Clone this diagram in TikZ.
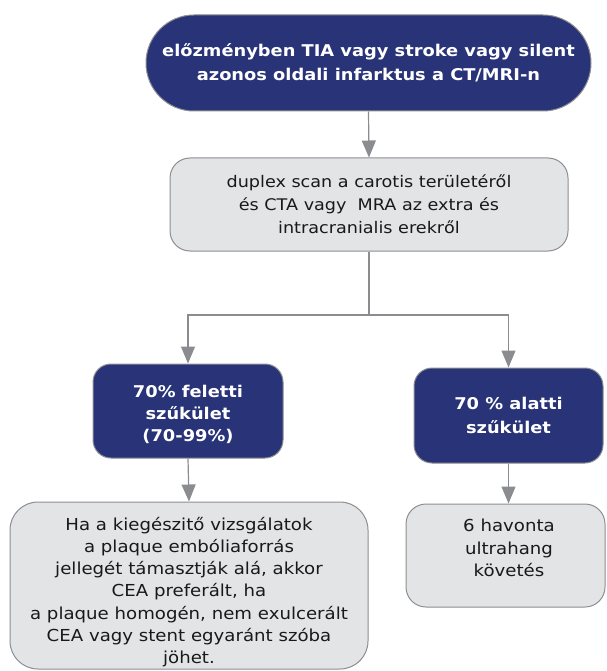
\documentclass[tikz,border=0pt]{standalone}
\usepackage{fontspec}
\setmainfont{DejaVu Sans}[FakeStretch=1.1]
\usetikzlibrary{arrows.meta}
\definecolor{navy}{RGB}{41,51,120}
\definecolor{boxgray}{RGB}{227,228,230}
\definecolor{edgegray}{RGB}{140,142,146}
\definecolor{linkgray}{RGB}{138,140,144}
\tikzset{
  darkbox/.style={draw=edgegray, line width=1pt, fill=navy, text=white,
    font=\fontsize{16.2}{24}\selectfont\bfseries, align=center, inner sep=0pt},
  lightbox/.style={draw=edgegray, line width=1pt, fill=boxgray, text=black!90,
    font=\fontsize{16}{23}\selectfont, align=center, inner sep=0pt},
  plaintext/.style={align=center, inner sep=0pt, text=black!90},
  link/.style={draw=linkgray, line width=1.2pt},
  arr/.style={link, -{Triangle[length=17pt,width=14pt]}}
}
\begin{document}
\begin{tikzpicture}[x=1pt,y=-1pt]
\useasboundingbox (0,0) rectangle (606,671);

\node[darkbox, minimum width=445pt, minimum height=96pt, rounded corners=48pt]
  (top) at (368.5,63) {előzményben TIA vagy stroke vagy silent\\azonos oldali infarktus a CT/MRI-n};

\node[lightbox, minimum width=398pt, minimum height=93pt, rounded corners=20pt]
  (scan) at (369,204.5) {duplex scan a carotis területéről\\és CTA vagy\ \ MRA az extra és\\intracranialis erekről};

\node[darkbox, minimum width=190pt, minimum height=94pt, rounded corners=18pt]
  (above) at (188,411) {};
\node[plaintext, text=white, font=\fontsize{16.2}{22}\selectfont\bfseries]
  (abovetext) at (188,414) {70\% feletti\\szűkület\\(70-99\%)};

\node[darkbox, minimum width=189pt, minimum height=95pt, rounded corners=18pt]
  (below) at (508.5,415.5) {70 \% alatti\\szűkület};

\node[lightbox, minimum width=358pt, minimum height=167pt, rounded corners=28pt]
  (cea) at (189,585.5) {};
\node[plaintext, font=\fontsize{16.5}{22.2}\selectfont]
  (ceatext) at (189,592) {Ha a kiegészitő vizsgálatok\\a plaque embóliaforrás\\jellegét támasztják alá, akkor\\CEA preferált, ha\\a plaque homogén, nem exulcerált\\CEA vagy stent egyaránt szóba\\jöhet.};

\node[lightbox, minimum width=199pt, minimum height=103pt, rounded corners=20pt]
  (follow) at (505.5,555.5) {};
\node[plaintext, font=\fontsize{16.5}{22.5}\selectfont]
  (followtext) at (509,548) {6 havonta\\ultrahang\\követés};

\coordinate (split) at (369,315);

\draw[arr] (top.south) -- (scan.north);
\draw[link] (scan.south) -- (split);
\draw[arr] (split) -| (above.north);
\draw[arr] (split) -| (below.north);
\draw[arr] (above.south) -- (cea.north);
\draw[arr] (below.south) -- (below.south |- follow.north);
\end{tikzpicture}
\end{document}
